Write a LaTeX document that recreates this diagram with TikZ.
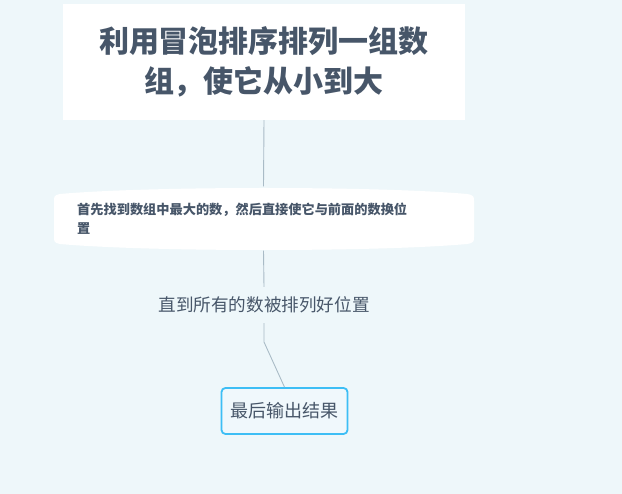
\documentclass[tikz,border=0pt]{standalone}
\usepackage{fontspec}
\newfontfamily\cjk{Noto Sans CJK SC}
\definecolor{bgc}{HTML}{EEF7FA}
\definecolor{txt}{HTML}{475669}
\definecolor{conn}{HTML}{A9BBC6}
\definecolor{blueb}{HTML}{3DBEF5}
\definecolor{botfill}{HTML}{F0F8FC}
\tikzset{
  connector/.style={draw=conn, line width=0.9pt},
  topbox/.style={fill=white, minimum width=402pt, minimum height=116pt, inner sep=0pt, align=center, text=txt, font=\cjk\bfseries\fontsize{30pt}{40.5pt}\selectfont},
  midshape/.style={minimum width=419pt, minimum height=64pt, inner sep=0pt},
  midtext/.style={text width=350pt, align=left, inner sep=0pt, anchor=west, text=txt, font=\cjk\bfseries\fontsize{13.2pt}{19pt}\selectfont},
  plaintext/.style={minimum height=36pt, inner sep=0pt, text=txt, font=\cjk\fontsize{17.6pt}{20pt}\selectfont},
  endbox/.style={draw=blueb, line width=1.8pt, rounded corners=4pt, fill=botfill, minimum width=126pt, minimum height=46pt, inner sep=0pt, text=txt, font=\cjk\fontsize{18pt}{20pt}\selectfont}
}
\begin{document}
\begin{tikzpicture}[x=1pt,y=-1pt]
\fill[bgc] (0,0) rectangle (622,494);
\useasboundingbox (0,0) rectangle (622,494);
\node[topbox] (top) at (264,62) {\raisebox{-2pt}{\parbox{400pt}{\centering 利用冒泡排序排列一组数\\组，使它从小到大}}};
\node[midshape] (mid) at (263.5,218.5) {};
\fill[white] (60,194) .. controls (150,186) and (378,186) .. (467,194)
  .. controls (474,195) and (474,197) .. (474,201) -- (474,237)
  .. controls (474,241) and (474,243) .. (467,244)
  .. controls (378,252) and (150,252) .. (60,244)
  .. controls (54,243) and (54,241) .. (54,237) -- (54,201)
  .. controls (54,197) and (54,195) .. (60,194) -- cycle;
\node[midtext] (mtext) at (77,218.5) {首先找到数组中最大的数，然后直接使它与前面的数换位\\置};
\node[plaintext] (third) at (264,305) {直到所有的数被排列好位置};
\node[endbox] (bottom) at (284.5,411) {最后输出结果};
\coordinate (bend) at (264,342);
\draw[connector] (top.south) -- (mid.north);
\draw[connector] (mid.south) -- (third.north);
\draw[connector] (third.south) -- (bend) -- (bottom.north);
\end{tikzpicture}
\end{document}
